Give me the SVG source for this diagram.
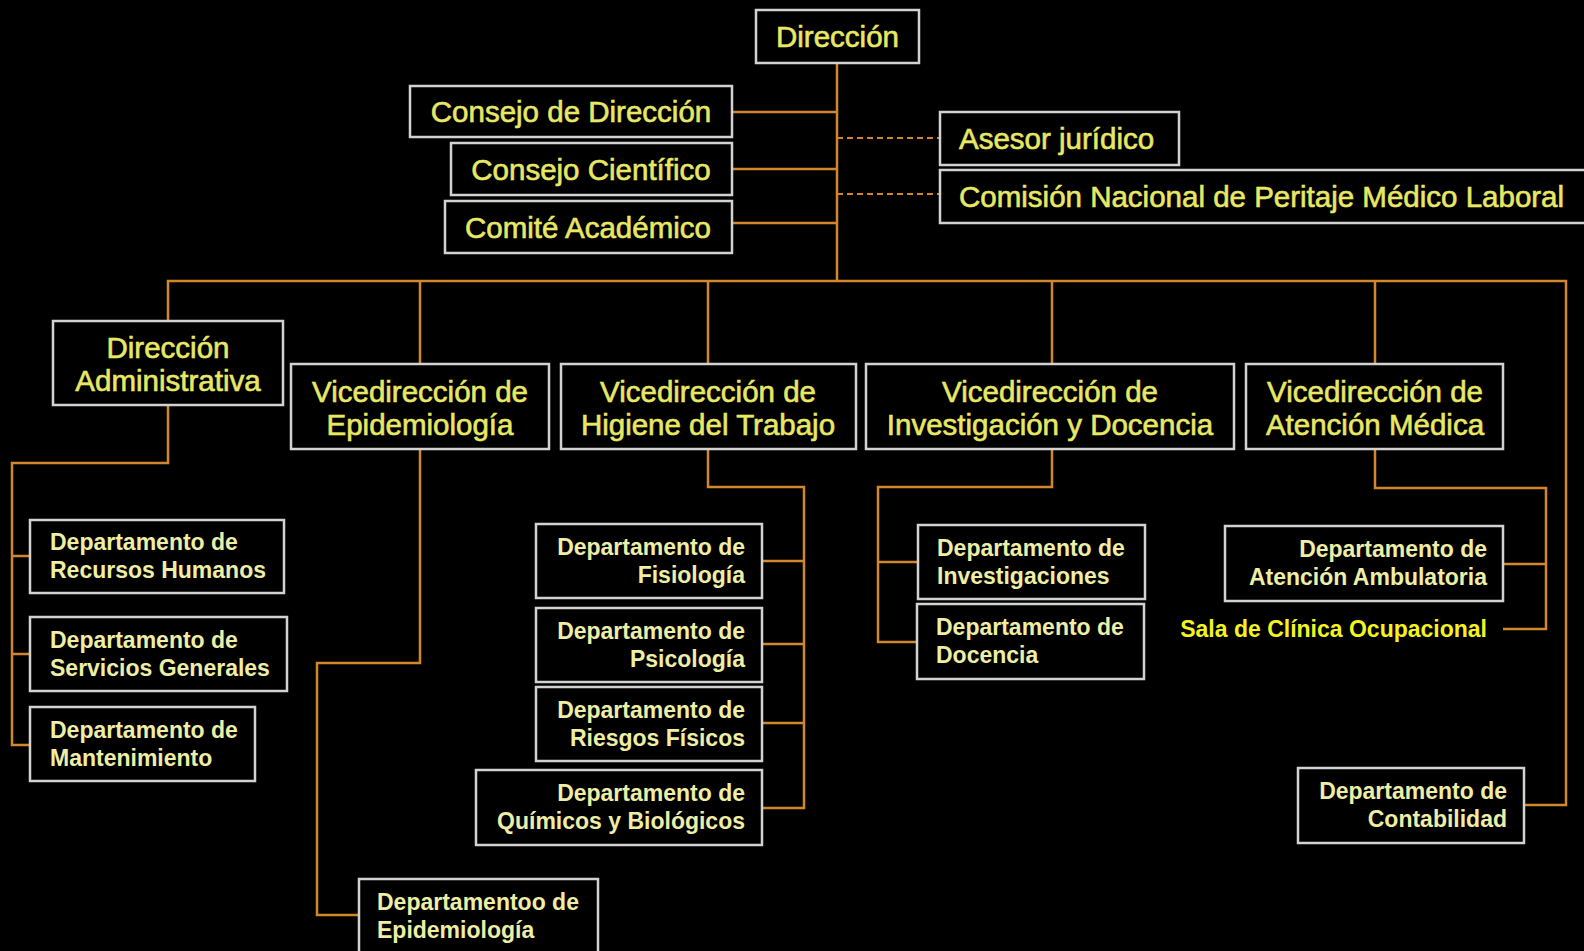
<svg xmlns="http://www.w3.org/2000/svg" width="1584" height="951" viewBox="0 0 1584 951">
<style>
.bx{fill:#000;stroke:#d2d2d2;stroke-width:2.5}
.big{font-family:"Liberation Sans",Arial,sans-serif;font-size:29.5px;fill:#e8e864;stroke:#e8e864;stroke-width:0.6}
.dep{font-family:"Liberation Sans",Arial,sans-serif;font-size:23px;font-weight:bold;fill:#eeeea4}
.sala{font-family:"Liberation Sans",Arial,sans-serif;font-size:23px;font-weight:bold;fill:#f4f41e}
.c{text-anchor:middle}
.r{text-anchor:end}
.ln{fill:none;stroke:#d4872a;stroke-width:2.5}
.dash{fill:none;stroke:#d4872a;stroke-width:2;stroke-dasharray:6 4}
</style>
<rect width="1584" height="951" fill="#000"/>
<g id="connectors">
<path class="ln" d="M837 63V281"/>
<path class="ln" d="M732 112H837M732 169H837M732 223H837"/>
<path class="dash" d="M837 138H940M837 194H940"/>
<path class="ln" d="M168 321V281H1566V805H1524"/>
<path class="ln" d="M420 281V364M708 281V364M1052 281V364M1375 281V364"/>
<path class="ln" d="M168 405V463H12V745H30M12 556H30M12 654H30"/>
<path class="ln" d="M420 449V663H317V915H359"/>
<path class="ln" d="M708 449V487H804V808H762M762 561H804M762 644H804M762 723H804"/>
<path class="ln" d="M1052 449V487H878V642H917M878 562H918"/>
<path class="ln" d="M1375 449V488H1546V629H1503M1503 564H1546"/>
</g>
<g id="n-direccion"><rect class="bx" x="756" y="10" width="163" height="53"/><text class="big c" x="837.5" y="47">Dirección</text></g>
<g id="n-consejo-direccion"><rect class="bx" x="410" y="86" width="322" height="51"/><text class="big c" x="571" y="122">Consejo de Dirección</text></g>
<g id="n-consejo-cientifico"><rect class="bx" x="451" y="143" width="281" height="52"/><text class="big c" x="591" y="179.5">Consejo Científico</text></g>
<g id="n-comite"><rect class="bx" x="445" y="201" width="287" height="52"/><text class="big c" x="588" y="237.5">Comité Académico</text></g>
<g id="n-asesor"><rect class="bx" x="940" y="112" width="239" height="53"/><text class="big" x="959" y="149">Asesor jurídico</text></g>
<g id="n-comision"><rect class="bx" x="940" y="170" width="660" height="53"/><text class="big" x="959" y="207">Comisión Nacional de Peritaje Médico Laboral</text></g>
<g id="n-dir-admin"><rect class="bx" x="53" y="321" width="230" height="84"/><text class="big c" x="168" y="358">Dirección</text><text class="big c" x="168" y="391">Administrativa</text></g>
<g id="n-vice-epi"><rect class="bx" x="291" y="364" width="258" height="85"/><text class="big c" x="420" y="402">Vicedirección de</text><text class="big c" x="420" y="435">Epidemiología</text></g>
<g id="n-vice-hig"><rect class="bx" x="561" y="364" width="295" height="85"/><text class="big c" x="708" y="402">Vicedirección de</text><text class="big c" x="708" y="435">Higiene del Trabajo</text></g>
<g id="n-vice-inv"><rect class="bx" x="866" y="364" width="368" height="85"/><text class="big c" x="1050" y="402">Vicedirección de</text><text class="big c" x="1050" y="435">Investigación y Docencia</text></g>
<g id="n-vice-aten"><rect class="bx" x="1246" y="364" width="257" height="85"/><text class="big c" x="1375" y="402">Vicedirección de</text><text class="big c" x="1375" y="435">Atención Médica</text></g>
<g id="n-rrhh"><rect class="bx" x="30" y="520" width="254" height="73"/><text class="dep" x="50" y="550">Departamento de</text><text class="dep" x="50" y="578">Recursos Humanos</text></g>
<g id="n-servicios"><rect class="bx" x="30" y="617" width="257" height="74"/><text class="dep" x="50" y="648">Departamento de</text><text class="dep" x="50" y="676">Servicios Generales</text></g>
<g id="n-mant"><rect class="bx" x="30" y="707" width="225" height="74"/><text class="dep" x="50" y="738">Departamento de</text><text class="dep" x="50" y="766">Mantenimiento</text></g>
<g id="n-fisio"><rect class="bx" x="536" y="524" width="226" height="74"/><text class="dep r" x="745" y="555">Departamento de</text><text class="dep r" x="745" y="583">Fisiología</text></g>
<g id="n-psico"><rect class="bx" x="536" y="608" width="226" height="74"/><text class="dep r" x="745" y="639">Departamento de</text><text class="dep r" x="745" y="667">Psicología</text></g>
<g id="n-riesgos"><rect class="bx" x="536" y="687" width="226" height="74"/><text class="dep r" x="745" y="718">Departamento de</text><text class="dep r" x="745" y="746">Riesgos Físicos</text></g>
<g id="n-quimicos"><rect class="bx" x="476" y="770" width="286" height="75"/><text class="dep r" x="745" y="801">Departamento de</text><text class="dep r" x="745" y="829">Químicos y Biológicos</text></g>
<g id="n-investigaciones"><rect class="bx" x="918" y="525" width="227" height="74"/><text class="dep" x="937" y="556">Departamento de</text><text class="dep" x="937" y="584">Investigaciones</text></g>
<g id="n-docencia"><rect class="bx" x="917" y="604" width="227" height="75"/><text class="dep" x="936" y="635">Departamento de</text><text class="dep" x="936" y="663">Docencia</text></g>
<g id="n-ambulatoria"><rect class="bx" x="1225" y="526" width="278" height="75"/><text class="dep r" x="1487" y="557">Departamento de</text><text class="dep r" x="1487" y="585">Atención Ambulatoria</text></g>
<g id="n-sala"><text class="sala r" x="1487" y="637">Sala de Clínica Ocupacional</text></g>
<g id="n-contabilidad"><rect class="bx" x="1298" y="768" width="226" height="75"/><text class="dep r" x="1507" y="799">Departamento de</text><text class="dep r" x="1507" y="827">Contabilidad</text></g>
<g id="n-dep-epi"><rect class="bx" x="359" y="879" width="239" height="90"/><text class="dep" x="377" y="910">Departamentoo de</text><text class="dep" x="377" y="938">Epidemiología</text></g>
</svg>
